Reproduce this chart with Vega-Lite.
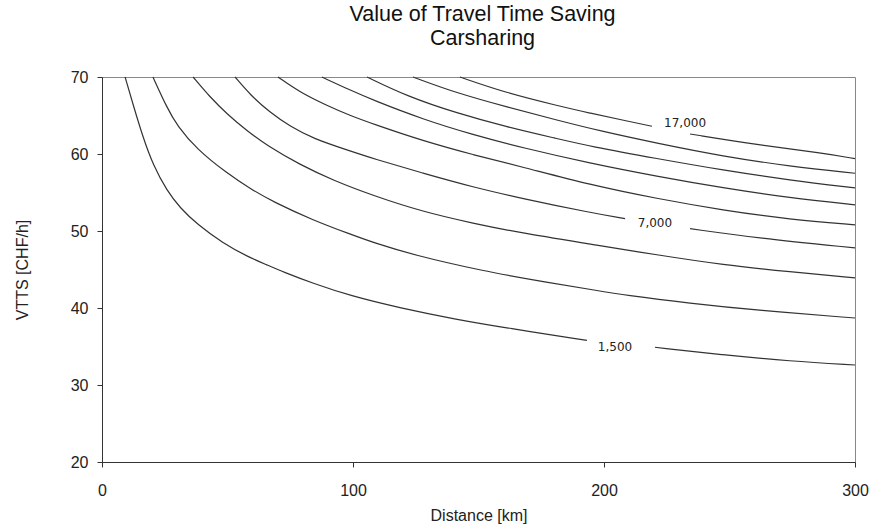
{
  "$schema": "https://vega.github.io/schema/vega-lite/v6.json",
  "width": 753,
  "height": 385,
  "autosize": {"type": "none"},
  "padding": {"left": 102, "top": 77, "right": 17, "bottom": 64},
  "background": "white",
  "config": {
    "view": {"stroke": "#888", "strokeWidth": 1},
    "font": "Liberation Sans"
  },
  "title": {
    "text": ["Value of Travel Time Saving", "Carsharing"],
    "fontSize": 21.5,
    "fontWeight": "normal",
    "font": "Liberation Sans",
    "color": "#111",
    "lineHeight": 24,
    "anchor": "middle",
    "offset": 20,
    "dx": 4
  },
  "datasets": {
    "curves": [
      {"s": "1500a", "x": 9.2, "y": 70}, {"s": "1500a", "x": 12.4, "y": 66.4}, {"s": "1500a", "x": 16.3, "y": 62.2}, {"s": "1500a", "x": 20.3, "y": 58.6}, {"s": "1500a", "x": 25.9, "y": 55.2}, {"s": "1500a", "x": 31.1, "y": 53.0}, {"s": "1500a", "x": 37.8, "y": 50.9}, {"s": "1500a", "x": 48.2, "y": 48.4}, {"s": "1500a", "x": 57.8, "y": 46.7}, {"s": "1500a", "x": 65.7, "y": 45.6}, {"s": "1500a", "x": 72.1, "y": 44.7}, {"s": "1500a", "x": 84.1, "y": 43.2}, {"s": "1500a", "x": 98.8, "y": 41.6}, {"s": "1500a", "x": 118.7, "y": 40.0}, {"s": "1500a", "x": 141.4, "y": 38.5}, {"s": "1500a", "x": 161.4, "y": 37.4}, {"s": "1500a", "x": 193.2, "y": 35.8},
      {"s": "1500b", "x": 220.3, "y": 34.9}, {"s": "1500b", "x": 247.4, "y": 33.9}, {"s": "1500b", "x": 274.1, "y": 33.1}, {"s": "1500b", "x": 300, "y": 32.6},
      {"s": "3000", "x": 20.3, "y": 70}, {"s": "3000", "x": 25.9, "y": 66.0}, {"s": "3000", "x": 29.9, "y": 63.7}, {"s": "3000", "x": 37.8, "y": 60.6}, {"s": "3000", "x": 49.8, "y": 57.5}, {"s": "3000", "x": 59.0, "y": 55.5}, {"s": "3000", "x": 68.1, "y": 53.8}, {"s": "3000", "x": 84.1, "y": 51.4}, {"s": "3000", "x": 98.8, "y": 49.6}, {"s": "3000", "x": 108.0, "y": 48.5}, {"s": "3000", "x": 123.9, "y": 46.9}, {"s": "3000", "x": 151.8, "y": 44.8}, {"s": "3000", "x": 174.5, "y": 43.5}, {"s": "3000", "x": 198.4, "y": 42.2}, {"s": "3000", "x": 207.6, "y": 41.7}, {"s": "3000", "x": 234.3, "y": 40.6}, {"s": "3000", "x": 261.0, "y": 39.7}, {"s": "3000", "x": 300, "y": 38.7},
      {"s": "5000", "x": 36.3, "y": 70}, {"s": "5000", "x": 43.0, "y": 67.4}, {"s": "5000", "x": 49.8, "y": 65.2}, {"s": "5000", "x": 57.8, "y": 63.0}, {"s": "5000", "x": 65.7, "y": 61.1}, {"s": "5000", "x": 78.9, "y": 58.6}, {"s": "5000", "x": 92.0, "y": 56.6}, {"s": "5000", "x": 108.0, "y": 54.6}, {"s": "5000", "x": 127.9, "y": 52.5}, {"s": "5000", "x": 147.8, "y": 51.0}, {"s": "5000", "x": 167.7, "y": 49.7}, {"s": "5000", "x": 198.4, "y": 48.1}, {"s": "5000", "x": 221.1, "y": 46.9}, {"s": "5000", "x": 247.4, "y": 45.6}, {"s": "5000", "x": 274.1, "y": 44.7}, {"s": "5000", "x": 300, "y": 43.9},
      {"s": "7000a", "x": 53.0, "y": 70}, {"s": "7000a", "x": 59.0, "y": 67.7}, {"s": "7000a", "x": 66.9, "y": 65.4}, {"s": "7000a", "x": 74.9, "y": 63.6}, {"s": "7000a", "x": 84.1, "y": 62.0}, {"s": "7000a", "x": 98.8, "y": 60.4}, {"s": "7000a", "x": 108.0, "y": 59.4}, {"s": "7000a", "x": 127.9, "y": 57.5}, {"s": "7000a", "x": 147.8, "y": 55.7}, {"s": "7000a", "x": 167.7, "y": 54.2}, {"s": "7000a", "x": 194.4, "y": 52.4}, {"s": "7000a", "x": 208.4, "y": 51.6},
      {"s": "7000b", "x": 234.3, "y": 50.3}, {"s": "7000b", "x": 261.0, "y": 49.1}, {"s": "7000b", "x": 300, "y": 47.8},
      {"s": "9000", "x": 70.1, "y": 70}, {"s": "9000", "x": 78.9, "y": 68.0}, {"s": "9000", "x": 89.6, "y": 66.3}, {"s": "9000", "x": 98.8, "y": 65.0}, {"s": "9000", "x": 108.0, "y": 63.9}, {"s": "9000", "x": 127.9, "y": 61.7}, {"s": "9000", "x": 147.8, "y": 59.9}, {"s": "9000", "x": 167.7, "y": 58.3}, {"s": "9000", "x": 194.4, "y": 56.0}, {"s": "9000", "x": 221.1, "y": 54.2}, {"s": "9000", "x": 247.4, "y": 52.7}, {"s": "9000", "x": 274.1, "y": 51.5}, {"s": "9000", "x": 300, "y": 50.8},
      {"s": "11000", "x": 87.6, "y": 70}, {"s": "11000", "x": 98.8, "y": 68.3}, {"s": "11000", "x": 108.0, "y": 67.0}, {"s": "11000", "x": 127.9, "y": 64.5}, {"s": "11000", "x": 147.8, "y": 62.5}, {"s": "11000", "x": 167.7, "y": 60.8}, {"s": "11000", "x": 194.4, "y": 58.8}, {"s": "11000", "x": 221.1, "y": 57.1}, {"s": "11000", "x": 247.4, "y": 55.6}, {"s": "11000", "x": 274.1, "y": 54.3}, {"s": "11000", "x": 300, "y": 53.4},
      {"s": "13000", "x": 105.6, "y": 70}, {"s": "13000", "x": 121.5, "y": 67.5}, {"s": "13000", "x": 141.4, "y": 65.3}, {"s": "13000", "x": 161.4, "y": 63.5}, {"s": "13000", "x": 181.3, "y": 62.0}, {"s": "13000", "x": 194.4, "y": 61.0}, {"s": "13000", "x": 221.1, "y": 59.4}, {"s": "13000", "x": 247.4, "y": 57.9}, {"s": "13000", "x": 274.1, "y": 56.6}, {"s": "13000", "x": 300, "y": 55.6},
      {"s": "15000", "x": 123.9, "y": 70}, {"s": "15000", "x": 141.4, "y": 67.9}, {"s": "15000", "x": 161.4, "y": 66.1}, {"s": "15000", "x": 181.3, "y": 64.4}, {"s": "15000", "x": 198.4, "y": 63.0}, {"s": "15000", "x": 221.1, "y": 61.4}, {"s": "15000", "x": 247.4, "y": 59.7}, {"s": "15000", "x": 274.1, "y": 58.4}, {"s": "15000", "x": 300, "y": 57.5},
      {"s": "17000a", "x": 142.6, "y": 70}, {"s": "17000a", "x": 161.4, "y": 67.9}, {"s": "17000a", "x": 181.3, "y": 66.3}, {"s": "17000a", "x": 194.4, "y": 65.3}, {"s": "17000a", "x": 207.6, "y": 64.4}, {"s": "17000a", "x": 219.1, "y": 63.6},
      {"s": "17000b", "x": 234.3, "y": 62.6}, {"s": "17000b", "x": 261.0, "y": 61.2}, {"s": "17000b", "x": 287.3, "y": 60.1}, {"s": "17000b", "x": 300, "y": 59.4}
    ],
    "labels": [
      {"label": "1,500", "x": 204.4, "y": 34.9},
      {"label": "7,000", "x": 220.3, "y": 51.1},
      {"label": "17,000", "x": 232.3, "y": 64.0}
    ]
  },
  "encoding": {
    "x": {
      "field": "x", "type": "quantitative",
      "scale": {"domain": [0, 300], "nice": false},
      "axis": {
        "title": "Distance [km]",
        "values": [0, 100, 200, 300],
        "grid": false,
        "domainColor": "#333", "tickColor": "#333", "tickSize": 5,
        "labelFont": "Liberation Sans", "labelFontSize": 16, "labelColor": "#222",
        "labelPadding": 15, "labelFlush": false,
        "titleFont": "Liberation Sans", "titleFontSize": 16, "titleFontWeight": "normal", "titleColor": "#222",
        "titlePadding": 9
      }
    },
    "y": {
      "field": "y", "type": "quantitative",
      "scale": {"domain": [20, 70], "nice": false, "zero": false},
      "axis": {
        "title": "VTTS [CHF/h]",
        "values": [20, 30, 40, 50, 60, 70],
        "grid": false,
        "domainColor": "#333", "tickColor": "#333", "tickSize": 5,
        "labelFont": "Liberation Sans", "labelFontSize": 16, "labelColor": "#222",
        "labelPadding": 9,
        "titleFont": "Liberation Sans", "titleFontSize": 16, "titleFontWeight": "normal", "titleColor": "#222",
        "titlePadding": 40
      }
    }
  },
  "layer": [
    {
      "data": {"name": "curves"},
      "mark": {"type": "line", "interpolate": "basis", "color": "#333", "strokeWidth": 1.2},
      "encoding": {"detail": {"field": "s", "type": "nominal"}}
    },
    {
      "data": {"name": "labels"},
      "mark": {"type": "text", "font": "DejaVu Sans", "fontSize": 12, "color": "#222", "align": "center", "baseline": "middle"},
      "encoding": {"text": {"field": "label", "type": "nominal"}}
    }
  ]
}
